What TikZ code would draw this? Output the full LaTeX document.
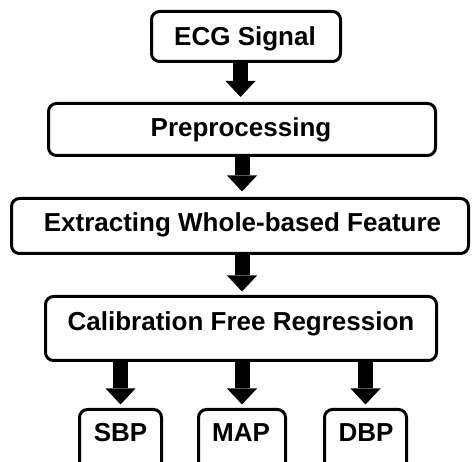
\documentclass[tikz,border=0pt]{standalone}
\usepackage{fontspec}
\setmainfont{Liberation Sans}
\usetikzlibrary{arrows.meta}
\begin{document}
\begin{tikzpicture}[x=1pt,y=-1pt,
  box/.style={draw=black, line width=3pt, rounded corners=8pt, inner sep=0pt, fill=white},
  lbl/.style={font=\fontsize{26}{30}\selectfont\bfseries, inner sep=0pt, text height=18.6pt, text depth=0pt},
  blockarrow/.style={line width=15pt, -{Triangle[width=30pt,length=16pt,line width=0pt]}}]
\useasboundingbox (0,0) rectangle (472,462);
\clip (0,0) rectangle (472,462);
% boxes
\node[box, minimum width=189pt, minimum height=50pt] (ecg) at (246,36.5) {};
\node[box, minimum width=387pt, minimum height=52pt] (pre) at (242,129.5) {};
\node[box, minimum width=457pt, minimum height=55pt] (ext) at (240,226) {};
\node[box, minimum width=391pt, minimum height=64pt] (cal) at (241,328.5) {};
\node[box, minimum width=82pt, minimum height=62pt] (sbp) at (120.5,440.5) {};
\node[box, minimum width=87pt, minimum height=62pt] (map) at (242,440.5) {};
\node[box, minimum width=82pt, minimum height=62pt] (dbp) at (365.5,440.5) {};
% labels
\node[lbl] (tecg) at (245,36) {ECG Signal};
\node[lbl] (tpre) at (241,127.5) {Preprocessing};
\node[lbl] (text) at (242.5,222.5) {Extracting Whole-based Feature};
\node[lbl] (tcal) at (241,321) {Calibration Free Regression};
\node[lbl] (tsbp) at (120.5,432.5) {SBP};
\node[lbl] (tmap) at (241,432.5) {MAP};
\node[lbl] (tdbp) at (366,432.5) {DBP};
% arrows
\draw[blockarrow, shorten >=5pt] (ecg.south -| 240.5,0) -- (pre.north -| 240.5,0);
\draw[blockarrow, shorten >=5.5pt] (pre.south -| 242,0) -- (ext.north -| 242,0);
\draw[blockarrow, shorten >=3.5pt] (ext.south -| 242,0) -- (cal.north -| 242,0);
\draw[blockarrow, shorten >=3.5pt] (cal.south -| sbp.north) -- (sbp.north);
\draw[blockarrow, shorten >=3.5pt] (cal.south -| map.north) -- (map.north);
\draw[blockarrow, shorten >=3.5pt] (cal.south -| dbp.north) -- (dbp.north);
\end{tikzpicture}
\end{document}
